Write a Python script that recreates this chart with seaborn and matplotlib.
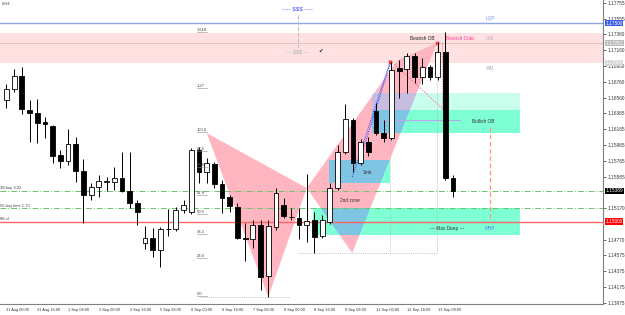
import numpy as np
import pandas as pd
import matplotlib
matplotlib.use("Agg")
import matplotlib.pyplot as plt
import seaborn as sns
from matplotlib.patches import Polygon, Rectangle
from matplotlib.transforms import blended_transform_factory

# ---------------- data (EURUSD H4) ----------------
opens  = [1.16533,1.16672,1.16835,1.16407,1.16369,1.16256,1.16205,1.15840,1.15764,1.15979,
          1.15638,1.15336,1.15437,1.15500,1.15500,1.15550,1.15386,1.15235,1.14731,1.14794,
          1.14643,1.14908,1.14908,1.15147,1.15122,1.15903,1.15626,1.15727,1.15475,1.15311,
          1.15185,1.14794,1.14782,1.14958,1.14315,1.14933,1.15210,1.15059,1.15046,1.14958,
          1.15021,1.14819,1.14996,1.15424,1.15878,1.16281,1.15739,1.16004,1.16394,1.16117,
          1.16054,1.16936,1.16924,1.17087,1.16823,1.16949,1.16823,1.17138,1.15550]
highs  = [1.16735,1.16924,1.16949,1.16533,1.16546,1.16319,1.16218,1.15903,1.16168,1.16067,
          1.15790,1.15487,1.15588,1.15563,1.15689,1.15878,1.15878,1.15273,1.14945,1.14920,
          1.14933,1.15160,1.15185,1.15273,1.15928,1.15941,1.15802,1.15752,1.15525,1.15336,
          1.15235,1.14983,1.15021,1.15021,1.15021,1.15424,1.15298,1.15172,1.15172,1.15601,
          1.15122,1.15084,1.15487,1.15966,1.16483,1.16306,1.16042,1.16067,1.16495,1.16281,
          1.17012,1.17037,1.17125,1.17125,1.17062,1.16974,1.17264,1.17390,1.15588]
lows   = [1.16432,1.16634,1.16357,1.16004,1.15991,1.16054,1.15739,1.15676,1.15714,1.15500,
          1.14983,1.15273,1.15311,1.15386,1.15399,1.15374,1.15172,1.14958,1.14656,1.14555,
          1.14429,1.14819,1.14882,1.15109,1.15097,1.15487,1.15487,1.15424,1.15109,1.15122,
          1.14782,1.14504,1.14668,1.14139,1.14051,1.14895,1.15046,1.15021,1.14782,1.14744,
          1.14605,1.14794,1.14971,1.15399,1.15853,1.15626,1.15714,1.15827,1.16092,1.16004,
          1.16029,1.16558,1.16621,1.16747,1.16735,1.16785,1.16785,1.15525,1.15311]
closes = [1.16672,1.16835,1.16420,1.16369,1.16243,1.16231,1.15827,1.15764,1.15979,1.15638,
          1.15336,1.15437,1.15512,1.15512,1.15550,1.15386,1.15235,1.15122,1.14794,1.14643,
          1.14908,1.14914,1.15147,1.15210,1.15903,1.15626,1.15739,1.15475,1.15298,1.15197,
          1.14794,1.14782,1.14958,1.14303,1.14945,1.15361,1.15071,1.15065,1.14958,1.15008,
          1.14807,1.15021,1.15424,1.15878,1.16294,1.15739,1.16004,1.15878,1.16117,1.16054,
          1.16911,1.16898,1.17087,1.16823,1.16949,1.16823,1.17138,1.15550,1.15389]

x_tick_idx = list(range(0, 57, 4))
x_tick_labels = ["31 Aug 00:00", "31 Aug 16:00", "1 Sep 08:00", "2 Sep 00:00", "2 Sep 16:00",
                 "5 Sep 08:00", "6 Sep 00:00", "6 Sep 16:00", "7 Sep 08:00", "8 Sep 00:00",
                 "8 Sep 16:00", "9 Sep 08:00", "12 Sep 00:00", "12 Sep 16:00", "13 Sep 08:00"]
y_ticks = [1.17755, 1.17555, 1.17360, 1.17160, 1.16960, 1.16760, 1.16560, 1.16365, 1.16165,
           1.15965, 1.15765, 1.15565, 1.15170, 1.14770, 1.14575, 1.14375, 1.14175, 1.13975]
y_tick_labels = [f"{v:.5f}" for v in y_ticks]

# harmonic pattern points X, A, B, C, D (candle index, price) and the swing high used by the BCD leg
pattern_idx = [26.0, 34.0, 39.0, 44.9, 55.9]
pattern_price = [1.16117, 1.14051, 1.15424, 1.14605, 1.17251]
swing_idx = 50.8
swing_price = 1.17037

# fibonacci levels (label, price)
fib_labels = ["1.618", "1.27", "100.0", "88.6", "78.6", "61.8", "50.0", "38.2", "23.6", "0.0"]
fib_prices = [1.17390, 1.16684, 1.16130, 1.15890, 1.15689, 1.15336, 1.15097, 1.14845, 1.14542, 1.14063]

# order lines
order_labels = ["38 buy 3.22", "55 buy limit 1.73", "88 sl"]
order_prices = [1.15389, 1.15170, 1.15000]

# price markers on right scale (price, label, colour)
marker_prices = [1.17500, 1.17251, 1.17000, 1.15389, 1.15000]
marker_labels = ["1.17500", "1.17251", "1.17000", "1.15389", "1.15000"]
marker_colors = ["#3a5ce0", "#bdbdbd", "#d6d6d6", "#000000", "#ff0000"]

# ---------------- style ----------------
sns.set_style("white")
plt.rcParams["font.family"] = ["Liberation Sans", "DejaVu Sans"]

fig = plt.figure(figsize=(6.25, 3.15), dpi=100)
ax = fig.add_axes([0, 11 / 315, 603 / 625, 304 / 315])
ax.set_xlim(-0.84, 77.47)
ax.set_ylim(1.13963, 1.17793)

MINT = "#7fffd4"
LMINT = "#c9fdec"
PINK = "#ffb6c1"
BLUE_MIX = "#80c4e4"
LAV_MIX = "#c7bde0"

# bearish OB band
ax.add_patch(Rectangle((-0.84, 1.16999), 80, 1.17377 - 1.16999, fc="#ffe1e1", ec="none", zorder=0))
ax.axhline(1.17251, color="#e2c2c2", lw=0.8, zorder=0.5)
ax.axhline(1.17500, color="#8ea6e8", lw=1.0, zorder=0.5)

# pattern shapes
tri1 = Polygon(list(zip([pattern_idx[0], pattern_idx[1], pattern_idx[2]],
                        [pattern_price[0], pattern_price[1], pattern_price[2]])),
               closed=True, fc=PINK, ec="none", zorder=1)
tri2 = Polygon(list(zip([pattern_idx[2], swing_idx, pattern_idx[4], pattern_idx[3]],
                        [pattern_price[2], swing_price, pattern_price[4], pattern_price[3]])),
               closed=True, fc=PINK, ec="none", zorder=1)
ax.add_patch(tri1)
ax.add_patch(tri2)

# zones (x0, x1, low, high, colour, overlap colour)
zones = [
    (47.47, 66.69, 1.16407, 1.16621, LMINT, LAV_MIX),
    (47.47, 66.69, 1.16117, 1.16407, MINT, BLUE_MIX),
    (41.88, 49.81, 1.15487, 1.15777, MINT, BLUE_MIX),
    (39.81, 66.69, 1.14832, 1.15172, MINT, BLUE_MIX),
]
for x0, x1, lo, hi, c, oc in zones:
    ax.add_patch(Rectangle((x0, lo), x1 - x0, hi - lo, fc=c, ec="none", zorder=2))
    ov = Rectangle((x0, lo), x1 - x0, hi - lo, fc=oc, ec="none", zorder=2.5)
    ax.add_patch(ov)
    ov.set_clip_path(tri2)

# dotted helper lines
dot = dict(color="#b0b0b0", lw=0.6, ls=(0, (1, 1.5)), zorder=3)
ax.plot([pattern_idx[4], pattern_idx[4]], [1.17251, 1.14605], **dot)
ax.plot([37.86, pattern_idx[4]], [1.14605, 1.14605], **dot)
ax.plot([49.81, 49.81], [1.16100, 1.14605], **dot)
ax.plot([25.1, 36.8], [1.14051, 1.14051], **dot)

# order lines
ax.axhline(order_prices[0], color="#6cc46c", lw=0.7, ls=(0, (6, 2, 1, 2)), zorder=3)
ax.axhline(order_prices[1], color="#6cc46c", lw=0.7, ls=(0, (6, 2, 1, 2)), zorder=3)
ax.axhline(order_prices[2], color="#ff6464", lw=1.0, zorder=3)
for lbl, p in zip(order_labels, order_prices):
    ax.text(-0.8, p + 0.00006, lbl, fontsize=3, color="#444", va="bottom", ha="left", zorder=6)

# orange dashed, lavender line
ax.plot([62.79, 62.79], [1.16193, 1.15000], color="#ff9060", lw=0.8, ls=(0, (4, 2.5)), zorder=3)
ax.plot([48.77, 58.9], [1.16281, 1.16281], color="#b8a8e8", lw=0.8, zorder=3)

# zigzag lines
sns.lineplot(x=[44.9, 49.81], y=[1.15563, 1.17012], ax=ax, color="#3a4cff", lw=0.8,
             ls=(0, (1, 1.2)), zorder=4)
sns.lineplot(x=[45.9, 49.9], y=[1.15777, 1.17012], ax=ax, color="#3a4cff", lw=0.8,
             ls=(0, (1, 1.2)), zorder=4)
ax.plot([49.81, 56.82], [1.17037, 1.16407], color="#ff6f8f", lw=0.7, ls=(0, (1.5, 1.5)), zorder=4)
ax.plot([56.5, 56.5], [1.17251, 1.16420], color="#ff6f8f", lw=0.6, ls=(0, (1.5, 1.5)), zorder=4)
sns.scatterplot(x=[49.81, pattern_idx[4]], y=[1.17012, 1.17251], ax=ax, marker="x", s=6,
                color="#ff2020", linewidth=0.8, zorder=6)

# candles
idx = np.arange(len(opens))
o = np.array(opens); c = np.array(closes); h = np.array(highs); l = np.array(lows)
ax.vlines(idx, l, h, color="#000000", lw=0.7, zorder=7)
bull = c >= o
body_lo = np.minimum(o, c)
body_h = np.maximum(np.abs(c - o), 0.00004)
ax.bar(idx[bull], body_h[bull], bottom=body_lo[bull], width=0.62, color="white",
       edgecolor="black", lw=0.6, zorder=8)
ax.bar(idx[~bull], body_h[~bull], bottom=body_lo[~bull], width=0.62, color="black",
       edgecolor="black", lw=0.6, zorder=8)

# texts
fs = 3.4
ax.text(52.4, 1.17314, "Bearish OB", fontsize=fs, color="#222", va="center", ha="left", zorder=9)
ax.text(57.1, 1.17314, "Bearish Crab", fontsize=fs, color="#ff3d9a", va="center", ha="left", zorder=9)
ax.text(61.9, 1.16256, "Bullish OB", fontsize=fs, color="#333", va="center", ha="center", zorder=9)
ax.text(46.8, 1.15626, "1mb", fontsize=fs, color="#333", va="center", ha="center", zorder=9)
ax.text(44.6, 1.15273, "2nd zone", fontsize=fs, color="#333", va="center", ha="center", zorder=9)
ax.text(57.2, 1.14920, "--- Max Deep ---", fontsize=fs, color="#333", va="center", ha="center", zorder=9)
ax.text(62.8, 1.17554, "LQP", fontsize=fs, color="#7a9ee6", va="center", ha="center")
ax.text(62.8, 1.17302, "U-S", fontsize=fs, color="#9aa8cc", va="center", ha="center")
ax.text(62.8, 1.16936, "WN", fontsize=fs, color="#9aa8c0", va="center", ha="center")
ax.text(62.8, 1.14920, "MHP", fontsize=fs, color="#5a80e0", va="center", ha="center")
ax.text(37.86, 1.17680, "---- $$$ ----", fontsize=4.5, color="#4050ff", va="center", ha="center")
ax.plot([37.86, 37.86], [1.17604, 1.17201], color="#b8b8b8", lw=0.7, ls=(0, (4, 2)))
ax.text(37.86, 1.17138, "--- $$$ ---", fontsize=4, color="#b0b0b0", va="center", ha="center", zorder=9)
ax.text(40.84, 1.17150, "\u2714", fontsize=4, color="#222", va="center", ha="center",
        family=["DejaVu Sans"], zorder=9)
ax.text(-0.6, 1.17745, "0,H4", fontsize=3, color="#444", va="center", ha="left")
for lbl, p in zip(fib_labels, fib_prices):
    ax.text(24.7, p + 0.00004, lbl, fontsize=3, color="#444", va="bottom", ha="left", zorder=9)
    ax.plot([24.7, 26.0], [p, p], color="#888", lw=0.4, zorder=9)

# axes / ticks
for s in ["top", "left"]:
    ax.spines[s].set_visible(False)
for s in ["right", "bottom"]:
    ax.spines[s].set_color("#808080")
    ax.spines[s].set_linewidth(0.8)
ax.yaxis.tick_right()
ax.set_yticks(y_ticks)
ax.set_yticklabels(y_tick_labels)
ax.tick_params(axis="y", length=2, width=0.5, pad=1.5, labelsize=3.4, colors="#333")
ax.set_xticks(x_tick_idx)
ax.set_xticklabels(x_tick_labels)
ax.tick_params(axis="x", length=2, width=0.5, pad=1, labelsize=2.8, colors="#333")
for t in ax.get_xticklabels():
    t.set_horizontalalignment("left")
ax.set_xlabel("")
ax.set_ylabel("")
if ax.get_legend():
    ax.get_legend().remove()

tr = blended_transform_factory(ax.transAxes, ax.transData)
for p, lbl, col in zip(marker_prices, marker_labels, marker_colors):
    ax.text(1.004, p, lbl, transform=tr, fontsize=3.4, color="white", va="center", ha="left",
            bbox=dict(boxstyle="square,pad=0.15", fc=col, ec="none"), clip_on=False, zorder=10)

fig.savefig("out.png", dpi=100)
